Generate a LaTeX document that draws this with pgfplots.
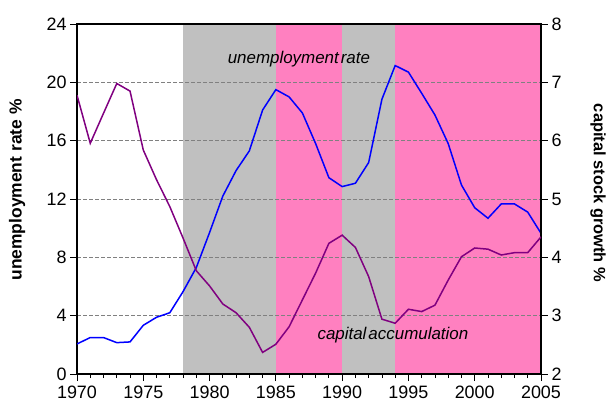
\documentclass[border=0pt]{standalone}
\usepackage{pgfplots}
\pgfplotsset{compat=1.18}
\usepackage{fontspec}
\setmainfont{Liberation Sans}
\definecolor{pinkbg}{HTML}{FF80C0}
\definecolor{graybg}{HTML}{C0C0C0}
\definecolor{purp}{HTML}{800080}
\definecolor{gridc}{HTML}{808080}

\pgfplotstableread{
year unemp
1970 2.06
1971 2.5
1972 2.5
1973 2.15
1974 2.2
1975 3.34
1976 3.89
1977 4.2
1978 5.65
1979 7.3
1980 9.7
1981 12.2
1982 13.95
1983 15.3
1984 18.1
1985 19.5
1986 19.0
1987 17.9
1988 15.8
1989 13.46
1990 12.85
1991 13.08
1992 14.5
1993 18.84
1994 21.15
1995 20.7
1996 19.25
1997 17.76
1998 15.8
1999 12.96
2000 11.4
2001 10.68
2002 11.66
2003 11.66
2004 11.1
2005 9.65
}\unemp

\pgfplotstableread{
year cap
1970 6.78
1971 5.955
1972 6.47
1973 6.98
1974 6.85
1975 5.84
1976 5.33
1977 4.87
1978 4.33
1979 3.77
1980 3.51
1981 3.2
1982 3.05
1983 2.8
1984 2.37
1985 2.51
1986 2.81
1987 3.27
1988 3.73
1989 4.24
1990 4.38
1991 4.17
1992 3.67
1993 2.94
1994 2.87
1995 3.11
1996 3.07
1997 3.18
1998 3.61
1999 4.01
2000 4.16
2001 4.14
2002 4.04
2003 4.08
2004 4.08
2005 4.35
}\capacc

\pgfplotsset{common/.style={
  at={(77bp,29bp)}, anchor=south west, scale only axis,
  width=464bp, height=350bp, xmin=1970, xmax=2005,
  /pgf/number format/assume math mode=true,
  /pgf/number format/1000 sep={},
  tick label style={font=\fontsize{18}{18}\selectfont},
  tick align=outside, major tick length=7bp, minor tick length=4bp,
  every tick/.style={black, line width=0.8bp},
  axis line style={line width=1.2bp},
}}

\begin{document}
\begin{tikzpicture}
\path[use as bounding box] (0,0) rectangle (609bp,403bp);

\begin{axis}[common, ymin=0, ymax=24, ytick={0,4,...,24},
  xtick={1970,1975,...,2005}, minor x tick num=4, tick pos=left,
  axis on top, ymajorgrids,
  major grid style={gridc, line width=0.9bp, dash pattern=on 4bp off 2bp},
  xticklabel style={yshift=-1bp}]
\addplot[fill=graybg, draw=none] coordinates {(1978,0) (1978,24) (1985,24) (1985,0)} -- cycle;
\addplot[fill=pinkbg, draw=none] coordinates {(1985,0) (1985,24) (1990,24) (1990,0)} -- cycle;
\addplot[fill=graybg, draw=none] coordinates {(1990,0) (1990,24) (1994,24) (1994,0)} -- cycle;
\addplot[fill=pinkbg, draw=none] coordinates {(1994,0) (1994,24) (2005,24) (2005,0)} -- cycle;
\end{axis}

\begin{axis}[common, ymin=0, ymax=24, hide axis]
\addplot[blue, line width=1.5bp] table[x=year, y=unemp] {\unemp};
\node[font=\fontsize{17}{17}\selectfont\itshape] at (axis cs:1986.74,21.6) {unemployment\hspace{2bp}rate};
\node[font=\fontsize{17}{17}\selectfont\itshape] at (axis cs:1993.83,2.67) {capital\hspace{2bp}accumulation};
\end{axis}

\begin{axis}[common, ymin=2, ymax=8, ytick={2,3,...,8},
  axis y line*=right, axis x line=none]
\addplot[purp, line width=1.5bp] table[x=year, y=cap] {\capacc};
\end{axis}

\node[rotate=90, font=\fontsize{17.5}{17.5}\selectfont\bfseries] at (17bp,213bp) {unemployment rate \%};
\node[rotate=-90, font=\fontsize{16.5}{16.5}\selectfont\bfseries] at (598bp,210bp) {capital stock growth \%};
\end{tikzpicture}
\end{document}
